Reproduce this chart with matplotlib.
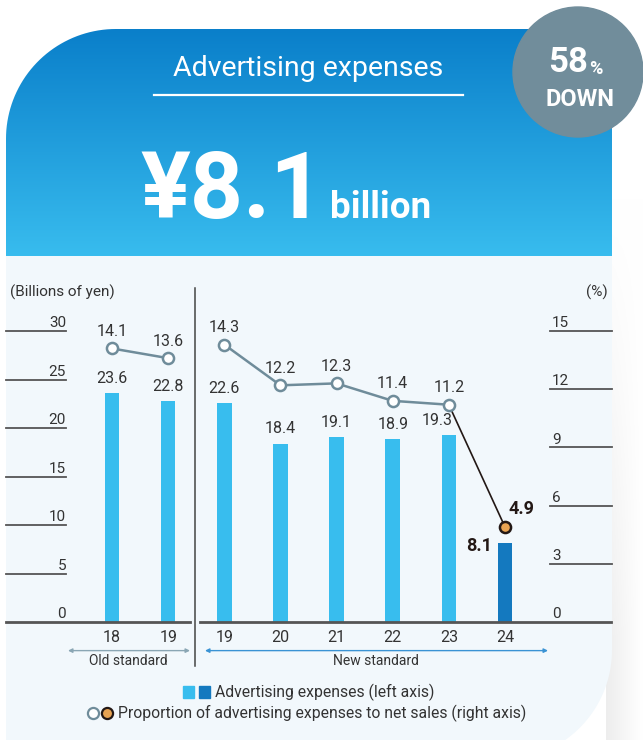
import numpy as np
import matplotlib
matplotlib.use("Agg")
import matplotlib.pyplot as plt
from matplotlib.path import Path
from matplotlib.patches import PathPatch, Circle, Rectangle
from matplotlib.colors import to_rgb

plt.rcParams['font.family'] = ['Roboto', 'DejaVu Sans']

# data
years = ["18", "19", "19", "20", "21", "22", "23", "24"]
ad_expenses = [23.6, 22.8, 22.6, 18.4, 19.1, 18.9, 19.3, 8.1]      # billions of yen
ad_ratio = [14.1, 13.6, 14.3, 12.2, 12.3, 11.4, 11.2, 4.9]         # % of net sales
left_ticks = [0, 5, 10, 15, 20, 25, 30]
right_ticks = [0, 3, 6, 9, 12, 15]

light_blue = '#38bdee'
dark_blue = '#1479bf'
grey_line = '#6f8c9a'
orange = '#e8a352'
dark = '#231815'
txt = '#333333'

W, H = 643, 740
fig = plt.figure(figsize=(W / 100, H / 100), dpi=100)
fig.patch.set_facecolor('white')

# ---- background (pixel coordinates) ----
bg = fig.add_axes([0, 0, 1, 1], zorder=0)
bg.set_xlim(0, W)
bg.set_ylim(H, 0)
bg.axis('off')

# soft shadow on the right (fades in from the top)
sx = np.linspace(0.93, 1.0, 40).reshape(1, -1)
sy = np.clip(np.linspace(-0.2, 1.2, 60), 0, 1).reshape(-1, 1)
shade = 1.0 - (1.0 - sx) * sy
shade = np.dstack([shade, shade, shade])
bg.imshow(shade, extent=(606, 643, 740, 110), origin='upper', zorder=0)

# card outline: rounded top-left and bottom-right corners
t1 = np.radians(np.linspace(180, 90, 40))
arc1 = np.c_[116 + 110 * np.cos(t1), 139 - 110 * np.sin(t1)]
t2 = np.radians(np.linspace(0, -90, 40))
arc2 = np.c_[502 + 110 * np.cos(t2), 650 - 110 * np.sin(t2)]
pts = np.vstack([arc1, [[612, 29]], arc2, [[6, 760]], arc1[:1]])
card = PathPatch(Path(pts), facecolor='#f2f8fc', edgecolor='none', zorder=1)
bg.add_patch(card)

# header gradient
c_top, c_bot = np.array(to_rgb('#0a7fca')), np.array(to_rgb('#38bcee'))
g = np.linspace(0, 1, 200).reshape(-1, 1, 1)
grad = c_top + (c_bot - c_top) * g
im = bg.imshow(grad, extent=(6, 612, 256, 29), origin='upper', zorder=2, aspect='auto')
im.set_clip_path(card)
bg.set_xlim(0, W)
bg.set_ylim(H, 0)
bg.set_aspect('auto')

bg.add_patch(Circle((578, 72), 65, color='#718d9b', zorder=3))
bg.text(568, 63, "58", color='white', fontsize=25, fontweight='bold', ha='center', va='center', zorder=4)
bg.text(596, 69, "%", color='white', fontsize=13, fontweight='bold', ha='center', va='center', zorder=4)
bg.text(580, 100, "DOWN", color='white', fontsize=17, fontweight='bold', ha='center', va='center', zorder=4)

bg.text(308, 68, "Advertising expenses", color='white', fontsize=20.5, ha='center', va='center', zorder=4)
bg.plot([154, 463], [95, 95], color='white', lw=1.6, zorder=4)
bg.text(140, 218, "¥8.1", color='white', fontsize=67, fontweight='bold', ha='left', va='baseline', zorder=4)
bg.text(330, 218, "billion", color='white', fontsize=26.5, fontweight='bold', ha='left', va='baseline', zorder=4)

# legend
bg.add_patch(Rectangle((183, 686), 11, 12, color=light_blue, zorder=4))
bg.add_patch(Rectangle((199, 686), 11, 12, color=dark_blue, zorder=4))
bg.text(215, 692, "Advertising expenses (left axis)", color=txt, fontsize=11.3, va='center', zorder=4)
bg.plot([93], [713], 'o', ms=8, mfc='white', mec=grey_line, mew=1.6, zorder=4)
bg.plot([107], [713], 'o', ms=8, mfc=orange, mec=dark, mew=1.6, zorder=4)
bg.text(118, 713, "Proportion of advertising expenses to net sales (right axis)",
        color=txt, fontsize=11.3, va='center', zorder=4)

# ---- chart ----
x0, dx = 112, 56.14          # pixel x of first bar, spacing
y_base, y_top = 622, 331     # pixel y of 0 and 30
ax = fig.add_axes([6 / W, (H - y_base) / H, 606 / W, (y_base - y_top) / H], zorder=5)
ax.patch.set_alpha(0)
ax.set_xlim((6 - x0) / dx, (612 - x0) / dx)
ax.set_ylim(0, 30)
ax.axis('off')
ax2 = ax.twinx()
ax2.set_ylim(0, 15)
ax2.axis('off')

x = np.arange(len(years))
colors = [light_blue] * 7 + [dark_blue]
ax.bar(x, ad_expenses, width=0.26, color=colors, zorder=2)

yt = ax.get_yaxis_transform()
yt2 = ax2.get_yaxis_transform()
for v in left_ticks:
    if v > 0:
        ax.plot([0, 0.099], [v, v], color='#555555', lw=1.3, transform=yt, clip_on=False)
    ax.text(0.099, v + 0.8, str(v), ha='right', va='center', fontsize=11, color=txt, transform=yt)
for v in right_ticks:
    if v > 0:
        ax2.plot([0.898, 1.0], [v, v], color='#555555', lw=1.3, transform=yt2, clip_on=False)
    ax2.text(0.901, v + 0.4, str(v), ha='left', va='center', fontsize=11, color=txt, transform=yt2)

ax.text(0.007, 34.0, "(Billions of yen)", fontsize=11, color=txt, ha='left', va='center', transform=yt)
ax.text(0.993, 34.0, "(%)", fontsize=11, color=txt, ha='right', va='center', transform=yt)

# baseline and separator
ax.plot([0, 0.3036], [0, 0], color='#555555', lw=2, transform=yt, clip_on=False)
ax.plot([0.320, 0.998], [0, 0], color='#555555', lw=2, transform=yt, clip_on=False)
sep = (195 - x0) / dx
ax.plot([sep, sep], [34.4, -4.5], color='#444444', lw=1.1, clip_on=False)

# x labels and standard arrows
for i, lab in enumerate(years):
    ax.text(i, -1.55, lab, ha='center', va='center', fontsize=11.5, color=txt, clip_on=False)
ax.annotate("", xy=((68 - x0) / dx, -2.95), xytext=((190 - x0) / dx, -2.95),
            arrowprops=dict(arrowstyle='<|-|>', color='#8aa6b4', lw=1, mutation_scale=6,
                            shrinkA=0, shrinkB=0), annotation_clip=False)
ax.annotate("", xy=((205 - x0) / dx, -2.95), xytext=((548 - x0) / dx, -2.95),
            arrowprops=dict(arrowstyle='<|-|>', color='#3a93d4', lw=1, mutation_scale=6,
                            shrinkA=0, shrinkB=0), annotation_clip=False)
ax.text((128 - x0) / dx, -4.0, "Old standard", ha='center', va='center', fontsize=10, color=txt)
ax.text((376 - x0) / dx, -4.0, "New standard", ha='center', va='center', fontsize=10, color=txt)

# bar labels (19.3 nudged left, clear of the steep line)
for i, v in enumerate(ad_expenses[:-1]):
    shift = -0.2 if i == 6 else 0
    ax.text(i + shift, v + 1.5, f"{v}", ha='center', va='center', fontsize=11.5, color=txt)
ax.text((492 - x0) / dx, ad_expenses[-1] - 0.3, f"{ad_expenses[-1]}", ha='right', va='center',
        fontsize=13, fontweight='bold', color=dark)

# ratio line
ax2.plot(x[:2], ad_ratio[:2], color=grey_line, lw=1.8, zorder=3)
ax2.plot(x[2:7], ad_ratio[2:7], color=grey_line, lw=1.8, zorder=3)
ax2.plot(x[6:8], ad_ratio[6:8], color=dark, lw=1.2, zorder=3)
ax2.plot(x[:7], ad_ratio[:7], 'o', ms=8, mfc='white', mec=grey_line, mew=1.8, zorder=4)
ax2.plot(x[7:], ad_ratio[7:], 'o', ms=8, mfc=orange, mec=dark, mew=1.8, zorder=4)
for i, v in enumerate(ad_ratio[:-1]):
    ax2.text(i, v + 0.87, f"{v}", ha='center', va='center', fontsize=11.5, color=txt)
ax2.text((508 - x0) / dx, 5.84, f"{ad_ratio[-1]}", ha='left', va='center',
         fontsize=13, fontweight='bold', color=dark)

fig.savefig("out.png", dpi=100)
